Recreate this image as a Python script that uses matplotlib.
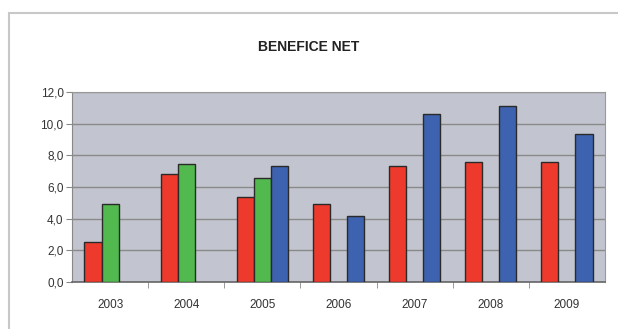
import numpy as np
import matplotlib.pyplot as plt
from matplotlib.patches import Rectangle

plt.rcParams['font.family'] = ['Liberation Sans', 'DejaVu Sans']

years = ['2003', '2004', '2005', '2006', '2007', '2008', '2009']
red_vals = [2.5, 6.8, 5.4, 4.9, 7.3, 7.55, 7.55]
green_vals = [4.9, 7.45, 6.55, None, None, None, None]
blue_vals = [None, None, 7.3, 4.2, 10.6, 11.1, 9.35]
yticks = [0, 2, 4, 6, 8, 10, 12]

fig = plt.figure(figsize=(6.18, 3.29), dpi=100)
fig.patch.set_facecolor('white')
# light frame around the chart
fig.patches.append(Rectangle((9/618, -0.05), 1.1, 1 - 13/329 + 0.05, transform=fig.transFigure,
                             fill=False, edgecolor='#c8c8c8', linewidth=1.5))

ax = fig.add_axes([72/618, 47/329, 533/618, 190/329])
ax.set_facecolor('#c2c5cf')

x = np.arange(len(years))
w = 0.225
series = [(red_vals, '#ee3a2c', -1), (green_vals, '#52b94e', 0), (blue_vals, '#3d62b0', 1)]
for vals, col, off in series:
    xs = [xi + off*w for xi, v in zip(x, vals) if v is not None]
    vs = [v for v in vals if v is not None]
    ax.bar(xs, vs, width=w, color=col, edgecolor='#2a2a2a', linewidth=1.0, zorder=3)

ax.set_xlim(-0.5, len(years) - 0.5)
ax.set_ylim(0, 12)
ax.set_yticks(yticks)
ax.set_yticklabels([('%.1f' % t).replace('.', ',') for t in yticks], fontsize=8.5, color='#333333')
ax.grid(axis='y', color='#8a8a8a', linewidth=1.0, zorder=1)
ax.set_xticks(x)
ax.set_xticklabels(years, fontsize=8.5, color='#333333')
ax.tick_params(axis='x', length=0, pad=12)
ax.tick_params(axis='y', length=4, color='#888888', pad=2)
ax.set_xticks(np.arange(0.5, len(years) - 1, 1), minor=True)
ax.tick_params(axis='x', which='minor', length=4, color='#888888', direction='out')
for s in ['top', 'right']:
    ax.spines[s].set_color('#999999')
ax.spines['left'].set_color('#888888')
ax.spines['bottom'].set_color('#666666')
ax.spines['bottom'].set_linewidth(1.2)

fig.text(0.5, 1 - 47/329, 'BENEFICE NET', ha='center', va='center', fontsize=10,
         fontweight='bold', color='#222222')

fig.savefig('out.png', dpi=100)
